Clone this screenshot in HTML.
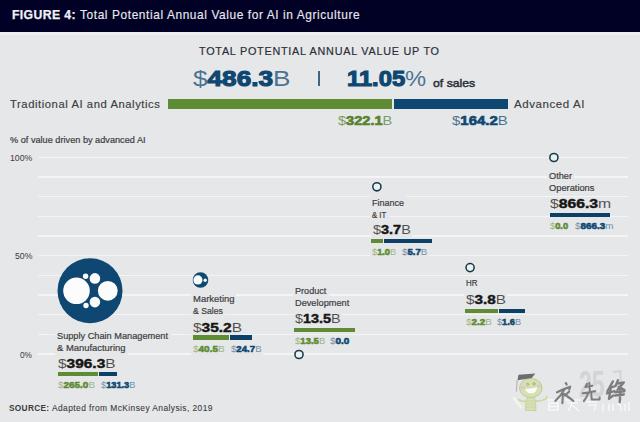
<!DOCTYPE html>
<html><head><meta charset="utf-8"><style>
html,body{margin:0;padding:0;}
body{width:640px;height:422px;overflow:hidden;position:relative;background:#e6e7e8;}

.t{position:absolute;white-space:nowrap;font-family:"Liberation Sans",sans-serif;transform-origin:0 0;}
.lt{font-weight:normal;opacity:.72}
.sm{font-weight:normal;opacity:.55}
.bk{font-weight:bold;-webkit-text-stroke:var(--s,0.035em) currentColor}

</style></head><body>
<div style="position:absolute;left:0.00px;top:0.00px;width:640.00px;height:31.90px;background:#010125;"></div>
<div style="position:absolute;left:0.00px;top:31.90px;width:640.00px;height:2.70px;background:#eeeff2;"></div>
<div style="position:absolute;left:38.00px;top:156.60px;width:590.00px;height:1.40px;background:#f3f4f5;"></div>
<div style="position:absolute;left:38.00px;top:176.26px;width:590.00px;height:1.40px;background:#f3f4f5;"></div>
<div style="position:absolute;left:38.00px;top:195.92px;width:590.00px;height:1.40px;background:#f3f4f5;"></div>
<div style="position:absolute;left:38.00px;top:215.58px;width:590.00px;height:1.40px;background:#f3f4f5;"></div>
<div style="position:absolute;left:38.00px;top:235.24px;width:590.00px;height:1.40px;background:#f3f4f5;"></div>
<div style="position:absolute;left:38.00px;top:254.90px;width:590.00px;height:1.40px;background:#f3f4f5;"></div>
<div style="position:absolute;left:38.00px;top:274.56px;width:590.00px;height:1.40px;background:#f3f4f5;"></div>
<div style="position:absolute;left:38.00px;top:294.22px;width:590.00px;height:1.40px;background:#f3f4f5;"></div>
<div style="position:absolute;left:38.00px;top:313.88px;width:590.00px;height:1.40px;background:#f3f4f5;"></div>
<div style="position:absolute;left:38.00px;top:333.54px;width:590.00px;height:1.40px;background:#f3f4f5;"></div>
<div style="position:absolute;left:38.00px;top:353.20px;width:590.00px;height:1.40px;background:#f3f4f5;"></div>
<div style="position:absolute;left:55.25px;top:329.18px;width:115.25px;height:14.12px;background:#e6e7e8;"></div>
<div style="position:absolute;left:55.25px;top:340.68px;width:72.65px;height:14.12px;background:#e6e7e8;"></div>
<div style="position:absolute;left:56.00px;top:356.18px;width:60.80px;height:16.12px;background:#e6e7e8;"></div>
<div style="position:absolute;left:56.00px;top:378.79px;width:43.40px;height:13.71px;background:#e6e7e8;"></div>
<div style="position:absolute;left:95.60px;top:378.79px;width:40.80px;height:13.71px;background:#e6e7e8;"></div>
<div style="position:absolute;left:191.10px;top:292.38px;width:45.40px;height:14.12px;background:#e6e7e8;"></div>
<div style="position:absolute;left:191.10px;top:304.48px;width:33.70px;height:14.12px;background:#e6e7e8;"></div>
<div style="position:absolute;left:191.10px;top:320.02px;width:52.15px;height:16.12px;background:#e6e7e8;"></div>
<div style="position:absolute;left:191.00px;top:342.54px;width:38.00px;height:13.71px;background:#e6e7e8;"></div>
<div style="position:absolute;left:226.00px;top:342.54px;width:37.00px;height:13.71px;background:#e6e7e8;"></div>
<div style="position:absolute;left:292.60px;top:284.18px;width:36.20px;height:14.12px;background:#e6e7e8;"></div>
<div style="position:absolute;left:292.60px;top:296.18px;width:58.70px;height:14.12px;background:#e6e7e8;"></div>
<div style="position:absolute;left:292.80px;top:311.27px;width:49.00px;height:16.12px;background:#e6e7e8;"></div>
<div style="position:absolute;left:292.50px;top:334.69px;width:36.70px;height:13.71px;background:#e6e7e8;"></div>
<div style="position:absolute;left:324.90px;top:334.69px;width:26.90px;height:13.71px;background:#e6e7e8;"></div>
<div style="position:absolute;left:370.30px;top:195.58px;width:35.80px;height:14.12px;background:#e6e7e8;"></div>
<div style="position:absolute;left:370.30px;top:207.68px;width:18.60px;height:14.12px;background:#e6e7e8;"></div>
<div style="position:absolute;left:370.75px;top:222.78px;width:41.00px;height:16.12px;background:#e6e7e8;"></div>
<div style="position:absolute;left:370.00px;top:245.69px;width:30.60px;height:13.71px;background:#e6e7e8;"></div>
<div style="position:absolute;left:397.25px;top:245.69px;width:31.65px;height:13.71px;background:#e6e7e8;"></div>
<div style="position:absolute;left:463.60px;top:276.18px;width:15.60px;height:14.12px;background:#e6e7e8;"></div>
<div style="position:absolute;left:464.00px;top:292.68px;width:43.10px;height:16.12px;background:#e6e7e8;"></div>
<div style="position:absolute;left:464.00px;top:315.99px;width:32.40px;height:13.71px;background:#e6e7e8;"></div>
<div style="position:absolute;left:492.30px;top:315.99px;width:30.50px;height:13.71px;background:#e6e7e8;"></div>
<div style="position:absolute;left:547.20px;top:169.28px;width:27.00px;height:14.12px;background:#e6e7e8;"></div>
<div style="position:absolute;left:547.20px;top:181.18px;width:49.50px;height:14.12px;background:#e6e7e8;"></div>
<div style="position:absolute;left:547.60px;top:196.78px;width:64.40px;height:16.12px;background:#e6e7e8;"></div>
<div style="position:absolute;left:547.60px;top:219.49px;width:25.60px;height:13.71px;background:#e6e7e8;"></div>
<div style="position:absolute;left:570.20px;top:219.49px;width:45.40px;height:13.71px;background:#e6e7e8;"></div>
<div style="position:absolute;left:168.00px;top:99.00px;width:224.00px;height:10.00px;background:#5f8b34;"></div>
<div style="position:absolute;left:394.00px;top:99.00px;width:113.50px;height:10.00px;background:#0e4771;"></div>
<div style="position:absolute;left:318.40px;top:70.50px;width:1.20px;height:15.80px;background:#3f6585;"></div>
<div style="position:absolute;left:58.00px;top:372.00px;width:39.60px;height:4.00px;background:#5f8b34;"></div>
<div style="position:absolute;left:98.80px;top:372.00px;width:18.70px;height:4.00px;background:#0d4066;"></div>
<div style="position:absolute;left:193.00px;top:335.25px;width:35.75px;height:4.35px;background:#5f8b34;"></div>
<div style="position:absolute;left:230.00px;top:335.25px;width:21.50px;height:4.35px;background:#0d4066;"></div>
<div style="position:absolute;left:294.00px;top:327.70px;width:60.50px;height:4.30px;background:#5f8b34;"></div>
<div style="position:absolute;left:371.25px;top:238.50px;width:11.85px;height:4.25px;background:#5f8b34;"></div>
<div style="position:absolute;left:384.00px;top:238.50px;width:47.90px;height:4.25px;background:#0d4066;"></div>
<div style="position:absolute;left:465.10px;top:308.90px;width:33.00px;height:4.30px;background:#5f8b34;"></div>
<div style="position:absolute;left:499.40px;top:308.90px;width:26.00px;height:4.30px;background:#0d4066;"></div>
<div style="position:absolute;left:549.60px;top:212.80px;width:60.20px;height:4.70px;background:#0d4066;"></div>
<svg width="640" height="422" style="position:absolute;left:0;top:0"><circle cx="90" cy="290.7" r="32.5" fill="#0e4771"/><circle cx="76.5" cy="290.8" r="13.3" fill="#fbfcfb"/><circle cx="107.8" cy="290.8" r="9.9" fill="#fbfcfb"/><circle cx="94.9" cy="278.4" r="5.3" fill="#fbfcfb"/><circle cx="85.6" cy="276.2" r="2.7" fill="#fbfcfb"/><circle cx="94.9" cy="302.1" r="5.3" fill="#fbfcfb"/><circle cx="86" cy="305.5" r="2.7" fill="#fbfcfb"/><circle cx="200.5" cy="280" r="7.8" fill="#0e4771"/><circle cx="197.9" cy="279.9" r="4.6" fill="#fbfcfb"/><circle cx="205.2" cy="280.2" r="1.7" fill="#fbfcfb"/><circle cx="299" cy="354.5" r="4.069999999999999" fill="#e8f3f5" stroke="#1c3746" stroke-width="1.55"/><circle cx="376.9" cy="186.8" r="4.069999999999999" fill="#e8f3f5" stroke="#1c3746" stroke-width="1.55"/><circle cx="470.1" cy="267.6" r="4.069999999999999" fill="#e8f3f5" stroke="#1c3746" stroke-width="1.55"/><circle cx="553.9" cy="157.5" r="4.069999999999999" fill="#e8f3f5" stroke="#1c3746" stroke-width="1.55"/></svg>
<svg width="640" height="422" style="position:absolute;left:0;top:0"><text x="579" y="397" font-family="Liberation Sans" font-size="37" font-weight="bold" fill="#d3d4d6" transform="translate(579,397) scale(0.62,1) translate(-579,-397)">25</text><path d="M613 372 L620.5 371 L620.5 400" fill="none" stroke="#d3d4d6" stroke-width="2"/><g fill="none" stroke="#f8f9fa" stroke-width="1.6" opacity="0.95"><path d="M547 400 L560 400 M549 403 L558 403 L558 410 L549 410 Z M549 406.5 L558 406.5"/><path d="M565 400 L580 400 M567 403 L578 403 M572 403 L568 411 M572 405 L579 411"/><path d="M586 402 L598 402 M588 405 L596 405 L594 411"/><path d="M604 404 Q601 410 604 411 M609 404 L609 411 M613 404 L613 411 M617 404 Q621 404 621 408 L621 411 M625 404 L625 411 M629 402 L629 411"/></g><g transform="translate(556,382.6) skewX(-3) scale(0.1870,0.2100)" fill="none" stroke="#7d7d7f" stroke-width="11" stroke-linecap="round" stroke-linejoin="round"><path d="M52 2 L58 9 M8 46 Q40 30 77 20 L73 33 M48 31 Q30 62 2 87 M40 54 L40 98 M48 54 Q72 70 98 87 M73 43 L52 61"/></g><g transform="translate(582.5,382.3) skewX(-3) scale(0.1830,0.1950)" fill="none" stroke="#7d7d7f" stroke-width="11" stroke-linecap="round" stroke-linejoin="round"><path d="M26 8 L17 24 L55 18 M38 4 L43 52 M4 56 L72 46 M34 56 Q26 80 13 96 M51 52 L55 88 L98 88 L98 78"/></g><g transform="translate(606.5,380.3) skewX(-3) scale(0.2150,0.2180)" fill="none" stroke="#7d7d7f" stroke-width="11" stroke-linecap="round" stroke-linejoin="round"><path d="M30 5 L7 50 M16 35 L42 27 M5 60 L40 50 M21 40 L16 85 L35 70 M53 0 L44 25 M49 15 L81 10 L53 45 M58 30 L86 45 M44 55 L86 50 M44 70 L84 65 M67 40 L67 100"/></g><g><path d="M514 398 L521 407.5" stroke="#f4f4ee" stroke-width="2.6" stroke-linecap="round"/><path d="M527.5 396.5 L534 396.5 Q536.5 403 536 410.5 L525.5 410.5 Q525 403 527.5 396.5 Z" fill="#d7e0b2" stroke="#bccb92" stroke-width="0.7"/><path d="M526.5 401 L535 401 M526 404 L535.5 404 M526 407 L535.8 407" stroke="#c3d19a" stroke-width="0.6"/><path d="M527 401 Q522 402 518.5 399.5 M534.5 400.5 Q539 402 546 399 L547 396.5" fill="none" stroke="#ccd9a4" stroke-width="1.8" stroke-linecap="round"/><ellipse cx="530.8" cy="388" rx="11.2" ry="9.6" fill="#d7e0b2" stroke="#b7c88c" stroke-width="0.9"/><ellipse cx="522.8" cy="387.4" rx="2" ry="1.3" fill="#e3bfd0"/><ellipse cx="538.8" cy="385.8" rx="2" ry="1.3" fill="#e3bfd0"/><path d="M524.5 388.2 Q531 388.6 537.8 386.6 Q537 394.2 531 394 Q525.5 393.8 524.5 388.2 Z" fill="#fbfbf7" stroke="#b7c88c" stroke-width="0.5"/><circle cx="527.6" cy="384.4" r="1.1" fill="none" stroke="#8fa565" stroke-width="0.8"/><circle cx="534.1" cy="383.8" r="1.1" fill="none" stroke="#8fa565" stroke-width="0.8"/><path d="M518.5 374.8 L535.3 373.6 L531.7 378 L517.5 380.2 Z" fill="#6c6c6e"/><path d="M517.2 380 L516.4 391.5" stroke="#a0a0a2" stroke-width="0.8"/></g></svg>
<div class="t" style="left:12.03px;top:8.60px;font-size:12.7px;line-height:12.7px;transform:scaleX(0.9656);color:#f0f0f6;letter-spacing:0.03em;-webkit-text-stroke:0.25px #f0f0f6"><b>FIGURE 4:</b></div>
<div class="t" style="left:79.50px;top:8.60px;font-size:12.7px;line-height:12.7px;transform:scaleX(0.9376);color:#e8e8f0;-webkit-text-stroke:0.15px #e8e8f0;letter-spacing:0.05em">Total Potential Annual Value for AI in Agriculture</div>
<div class="t" style="left:198.75px;top:46.11px;font-size:11.4px;line-height:11.4px;transform:scaleX(0.9486);color:#2c2e38;-webkit-text-stroke:0.2px #2c2e38;letter-spacing:0.07em">TOTAL POTENTIAL ANNUAL VALUE UP TO</div>
<div class="t" style="left:193.00px;top:67.96px;font-size:22.4px;line-height:22.4px;transform:scaleX(1.1687);color:#0e4771;--s:0.05em"><span class="lt">$</span><span class="bk">486.3</span><span class="lt">B</span></div>
<div class="t" style="left:346.95px;top:67.88px;font-size:22.5px;line-height:22.5px;transform:scaleX(1.0548);color:#0e4771;--s:0.05em"><span class="bk">11.05</span><span class="lt">%</span></div>
<div class="t" style="left:432.50px;top:77.62px;font-size:10.8px;line-height:10.8px;transform:scaleX(1.1351);color:#2c2e38;-webkit-text-stroke:0.45px #2c2e38">of sales</div>
<div class="t" style="left:9.80px;top:99.08px;font-size:11.2px;line-height:11.2px;transform:scaleX(1.0060);color:#3b3c40;-webkit-text-stroke:0.15px #3b3c40;letter-spacing:0.05em">Traditional AI and Analytics</div>
<div class="t" style="left:513.75px;top:99.08px;font-size:11.2px;line-height:11.2px;transform:scaleX(1.0294);color:#3b3c40;-webkit-text-stroke:0.15px #3b3c40;letter-spacing:0.05em">Advanced AI</div>
<div class="t" style="left:337.80px;top:114.14px;font-size:13.6px;line-height:13.6px;transform:scaleX(1.0720);color:#57832e;--s:0.05em"><span class="lt">$</span><span class="bk">322.1</span><span class="lt">B</span></div>
<div class="t" style="left:452.00px;top:114.14px;font-size:13.6px;line-height:13.6px;transform:scaleX(1.1000);color:#0e4771;--s:0.05em"><span class="lt">$</span><span class="bk">164.2</span><span class="lt">B</span></div>
<div class="t" style="left:10.00px;top:135.07px;font-size:9.8px;line-height:9.8px;transform:scaleX(0.9359);color:#3e3f44;-webkit-text-stroke:0.22px #3e3f44">% of value driven by advanced AI</div>
<div class="t" style="left:10.20px;top:153.50px;font-size:9.3px;line-height:9.3px;transform:scaleX(0.9417);color:#3b3c40">100%</div>
<div class="t" style="left:14.80px;top:252.20px;font-size:9.3px;line-height:9.3px;transform:scaleX(0.9368);color:#3b3c40">50%</div>
<div class="t" style="left:19.90px;top:351.30px;font-size:9.3px;line-height:9.3px;transform:scaleX(0.8929);color:#3b3c40">0%</div>
<div class="t" style="left:9.45px;top:404.26px;font-size:9.1px;line-height:9.1px;transform:scaleX(0.9080);color:#3b3c40;letter-spacing:0.04em"><b>SOURCE:</b></div>
<div class="t" style="left:52.25px;top:404.26px;font-size:9.1px;line-height:9.1px;transform:scaleX(0.9239);color:#3b3c40;-webkit-text-stroke:0.1px #3b3c40;letter-spacing:0.05em">Adapted from McKinsey Analysis, 2019</div>
<div class="t" style="left:57.25px;top:331.14px;font-size:9.6px;line-height:9.6px;transform:scaleX(0.9591);color:#3e3f44;-webkit-text-stroke:0.22px #3e3f44">Supply Chain Management</div>
<div class="t" style="left:57.25px;top:342.64px;font-size:9.6px;line-height:9.6px;transform:scaleX(0.9807);color:#3e3f44;-webkit-text-stroke:0.22px #3e3f44">&amp; Manufacturing</div>
<div class="t" style="left:58.00px;top:357.68px;font-size:12.5px;line-height:12.5px;transform:scaleX(1.2348);color:#161616"><span class="lt">$</span><span class="bk">396.3</span><span class="lt">B</span></div>
<div class="t" style="left:58.00px;top:380.85px;font-size:9px;line-height:9px;transform:scaleX(1.1030);color:#5f8b34;--s:0.06em"><span class="sm">$</span><span class="bk">265.0</span><span class="sm">B</span></div>
<div class="t" style="left:100.60px;top:380.85px;font-size:9px;line-height:9px;transform:scaleX(1.0242);color:#0e4771;--s:0.06em"><span class="sm">$</span><span class="bk">131.3</span><span class="sm">B</span></div>
<div class="t" style="left:193.10px;top:294.34px;font-size:9.6px;line-height:9.6px;transform:scaleX(0.9857);color:#3e3f44;-webkit-text-stroke:0.22px #3e3f44">Marketing</div>
<div class="t" style="left:193.10px;top:306.44px;font-size:9.6px;line-height:9.6px;transform:scaleX(0.9000);color:#3e3f44;-webkit-text-stroke:0.22px #3e3f44">&amp; Sales</div>
<div class="t" style="left:193.10px;top:321.52px;font-size:12.5px;line-height:12.5px;transform:scaleX(1.2346);color:#161616"><span class="lt">$</span><span class="bk">35.2</span><span class="lt">B</span></div>
<div class="t" style="left:193.00px;top:344.60px;font-size:9px;line-height:9px;transform:scaleX(1.1071);color:#5f8b34;--s:0.06em"><span class="sm">$</span><span class="bk">40.5</span><span class="sm">B</span></div>
<div class="t" style="left:231.00px;top:344.60px;font-size:9px;line-height:9px;transform:scaleX(1.0714);color:#0e4771;--s:0.06em"><span class="sm">$</span><span class="bk">24.7</span><span class="sm">B</span></div>
<div class="t" style="left:294.60px;top:286.14px;font-size:9.6px;line-height:9.6px;transform:scaleX(0.9471);color:#3e3f44;-webkit-text-stroke:0.22px #3e3f44">Product</div>
<div class="t" style="left:294.60px;top:298.14px;font-size:9.6px;line-height:9.6px;transform:scaleX(0.9596);color:#3e3f44;-webkit-text-stroke:0.22px #3e3f44">Development</div>
<div class="t" style="left:294.80px;top:312.77px;font-size:12.5px;line-height:12.5px;transform:scaleX(1.1538);color:#161616"><span class="lt">$</span><span class="bk">13.5</span><span class="lt">B</span></div>
<div class="t" style="left:294.50px;top:336.75px;font-size:9px;line-height:9px;transform:scaleX(1.0607);color:#5f8b34;--s:0.06em"><span class="sm">$</span><span class="bk">13.5</span><span class="sm">B</span></div>
<div class="t" style="left:329.90px;top:336.75px;font-size:9px;line-height:9px;transform:scaleX(1.1056);color:#0e4771;--s:0.06em"><span class="sm">$</span><span class="bk">0.0</span><span class="sm"></span></div>
<div class="t" style="left:372.30px;top:197.54px;font-size:9.6px;line-height:9.6px;transform:scaleX(0.9353);color:#3e3f44;-webkit-text-stroke:0.22px #3e3f44">Finance</div>
<div class="t" style="left:372.30px;top:209.64px;font-size:9.6px;line-height:9.6px;transform:scaleX(0.8111);color:#3e3f44;-webkit-text-stroke:0.22px #3e3f44">&amp; IT</div>
<div class="t" style="left:372.75px;top:224.28px;font-size:12.5px;line-height:12.5px;transform:scaleX(1.1562);color:#161616"><span class="lt">$</span><span class="bk">3.7</span><span class="lt">B</span></div>
<div class="t" style="left:372.00px;top:247.75px;font-size:9px;line-height:9px;transform:scaleX(1.0261);color:#5f8b34;--s:0.06em"><span class="sm">$</span><span class="bk">1.0</span><span class="sm">B</span></div>
<div class="t" style="left:402.25px;top:247.75px;font-size:9px;line-height:9px;transform:scaleX(1.0717);color:#0e4771;--s:0.06em"><span class="sm">$</span><span class="bk">5.7</span><span class="sm">B</span></div>
<div class="t" style="left:465.60px;top:278.14px;font-size:9.6px;line-height:9.6px;transform:scaleX(0.8286);color:#3e3f44;-webkit-text-stroke:0.22px #3e3f44">HR</div>
<div class="t" style="left:466.00px;top:294.18px;font-size:12.5px;line-height:12.5px;transform:scaleX(1.2219);color:#161616"><span class="lt">$</span><span class="bk">3.8</span><span class="lt">B</span></div>
<div class="t" style="left:466.00px;top:318.05px;font-size:9px;line-height:9px;transform:scaleX(1.1043);color:#5f8b34;--s:0.06em"><span class="sm">$</span><span class="bk">2.2</span><span class="sm">B</span></div>
<div class="t" style="left:497.30px;top:318.05px;font-size:9px;line-height:9px;transform:scaleX(1.0217);color:#0e4771;--s:0.06em"><span class="sm">$</span><span class="bk">1.6</span><span class="sm">B</span></div>
<div class="t" style="left:549.20px;top:171.24px;font-size:9.6px;line-height:9.6px;transform:scaleX(0.9583);color:#3e3f44;-webkit-text-stroke:0.22px #3e3f44">Other</div>
<div class="t" style="left:549.20px;top:183.14px;font-size:9.6px;line-height:9.6px;transform:scaleX(0.9681);color:#3e3f44;-webkit-text-stroke:0.22px #3e3f44">Operations</div>
<div class="t" style="left:549.60px;top:198.28px;font-size:12.5px;line-height:12.5px;transform:scaleX(1.2583);color:#161616"><span class="lt">$</span><span class="bk">866.3</span><span class="lt">m</span></div>
<div class="t" style="left:549.60px;top:221.55px;font-size:9px;line-height:9px;transform:scaleX(1.0333);color:#5f8b34;--s:0.06em"><span class="sm">$</span><span class="bk">0.0</span><span class="sm"></span></div>
<div class="t" style="left:575.20px;top:221.55px;font-size:9px;line-height:9px;transform:scaleX(1.0971);color:#0e4771;--s:0.06em"><span class="sm">$</span><span class="bk">866.3</span><span class="sm">m</span></div>
</body></html>
